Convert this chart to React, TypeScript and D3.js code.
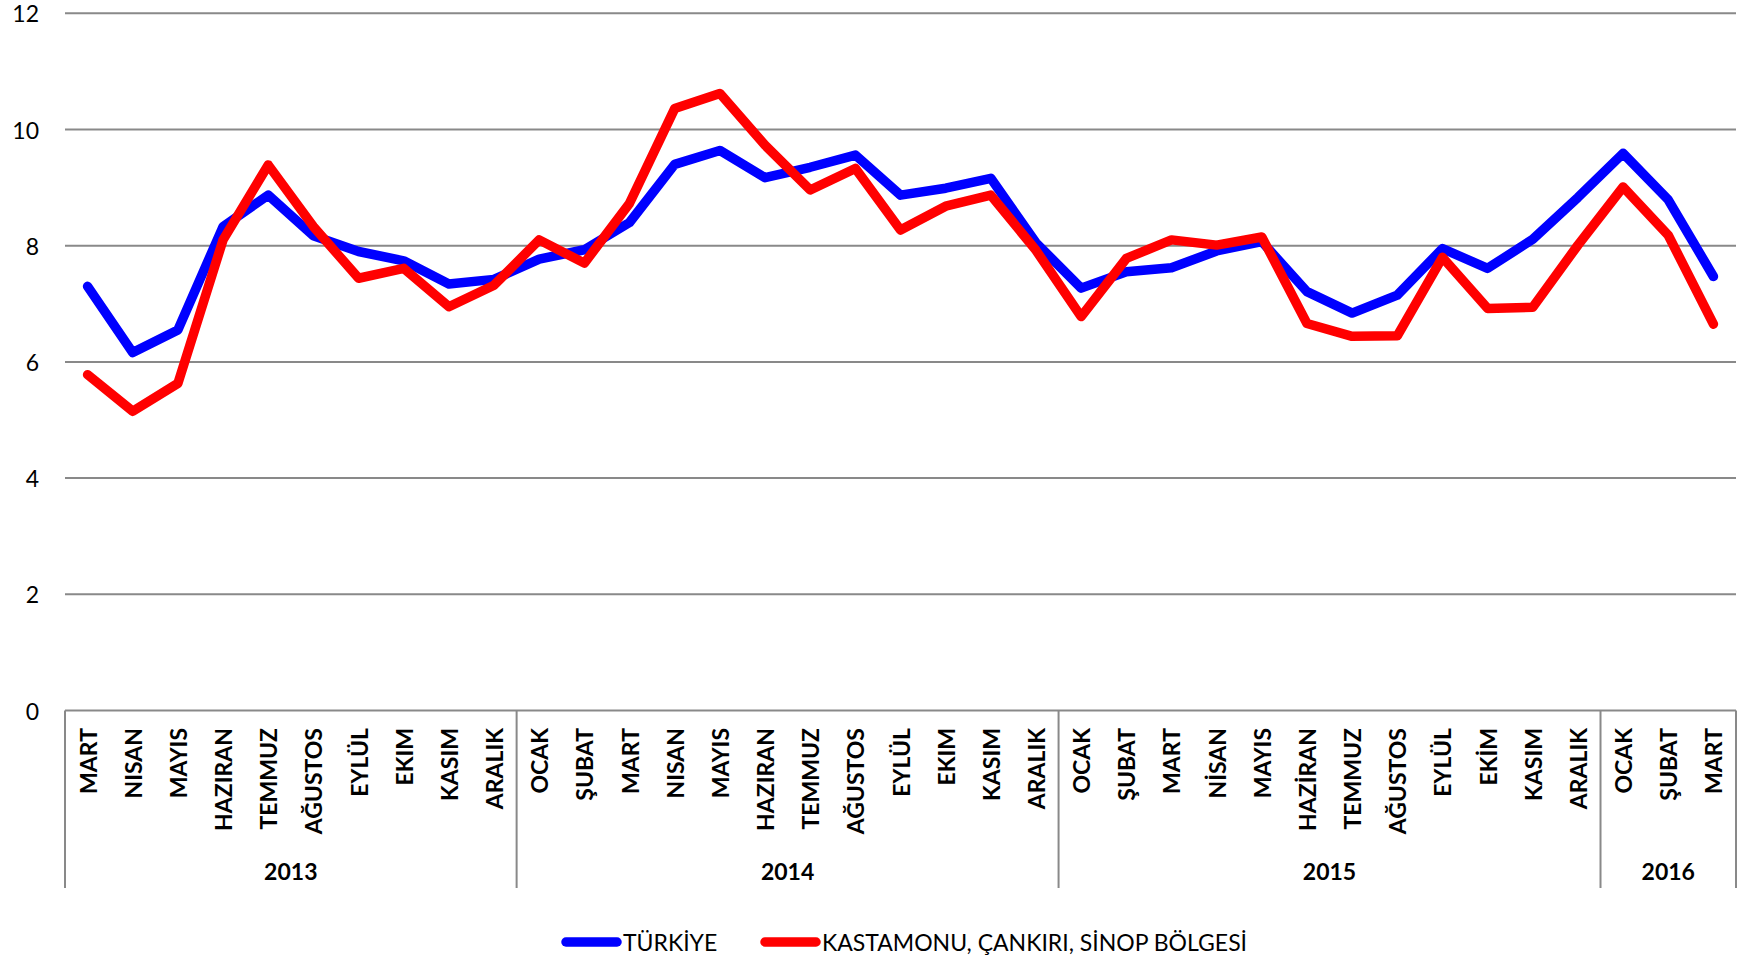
import React from "react";
import * as d3 from "d3";

const months2013 = ["MART", "NISAN", "MAYIS", "HAZIRAN", "TEMMUZ", "AĞUSTOS", "EYLÜL", "EKIM", "KASIM", "ARALIK"];
const months2014 = ["OCAK", "ŞUBAT", "MART", "NISAN", "MAYIS", "HAZIRAN", "TEMMUZ", "AĞUSTOS", "EYLÜL", "EKIM", "KASIM", "ARALIK"];
const months2015 = ["OCAK", "ŞUBAT", "MART", "NİSAN", "MAYIS", "HAZİRAN", "TEMMUZ", "AĞUSTOS", "EYLÜL", "EKİM", "KASIM", "ARALIK"];
const months2016 = ["OCAK", "ŞUBAT", "MART"];
const years = ["2013", "2014", "2015", "2016"];
const yearMonths = [months2013, months2014, months2015, months2016];

const turkiye = [
  7.30, 6.16, 6.55, 8.33, 8.87, 8.17, 7.90, 7.74, 7.34, 7.42,
  7.77, 7.93, 8.40, 9.40, 9.64, 9.17, 9.35, 9.56, 8.87, 8.99, 9.16, 8.05,
  7.27, 7.55, 7.62, 7.91, 8.07, 7.21, 6.84, 7.15, 7.95, 7.61, 8.11, 8.83,
  9.59, 8.79, 7.47,
];
const bolge = [
  5.78, 5.15, 5.63, 8.10, 9.39, 8.33, 7.44, 7.61, 6.95, 7.32,
  8.10, 7.70, 8.73, 10.36, 10.62, 9.73, 8.96, 9.33, 8.27, 8.68, 8.87, 7.92,
  6.78, 7.78, 8.10, 8.01, 8.15, 6.66, 6.44, 6.45, 7.80, 6.92, 6.94, 8.01,
  9.01, 8.18, 6.65,
];
const yTicks = [0, 2, 4, 6, 8, 10, 12];
const seriesNames = ["TÜRKİYE", "KASTAMONU, ÇANKIRI, SİNOP BÖLGESİ"];
const seriesColors = ["#0000FF", "#FF0000"];

const W = 1738;
const H = 958;
const left = 65;
const right = 1736;
const top = 13.3;
const bottom = 710.5;
const FONT = "Lato, 'Open Sans', sans-serif";

export default function App() {
  const cats: { key: string; label: string; year: number }[] = [];
  yearMonths.forEach((ms, yi) => ms.forEach((m, mi) => cats.push({ key: `${years[yi]}-${mi}`, label: m, year: yi })));

  const x = d3.scaleBand<string>().domain(cats.map((c) => c.key)).range([left, right]).padding(0);
  const y = d3.scaleLinear().domain([0, 12]).range([bottom, top]);
  const cx = (i: number) => (x(cats[i].key) as number) + x.bandwidth() / 2;

  const line = d3
    .line<number>()
    .x((_, i) => cx(i))
    .y((d) => y(d));

  const bounds: number[] = [left];
  let acc = 0;
  yearMonths.forEach((ms) => {
    acc += ms.length;
    const k = cats[acc - 1].key;
    bounds.push((x(k) as number) + x.bandwidth());
  });

  const gridColor = "#898989";

  return (
    <div style={{ position: "absolute", left: 0, top: 0 }}>
      <svg width={W} height={H} style={{ display: "block", background: "#fff" }}>
        {yTicks.map((t) => (
          <g key={t}>
            <line x1={left} x2={right} y1={y(t)} y2={y(t)} stroke={gridColor} strokeWidth={2} />
            <text
              x={39}
              y={y(t)}
              textAnchor="end"
              dominantBaseline="central"
              fontFamily={FONT}
              fontSize={23}
              fill="#000"
            >
              {t}
            </text>
          </g>
        ))}
        {bounds.map((b, i) => (
          <line key={i} x1={b} x2={b} y1={bottom} y2={888} stroke={gridColor} strokeWidth={2} />
        ))}
        {cats.map((c, i) => (
          <text
            key={c.key}
            transform={`translate(${cx(i)},728) rotate(-90)`}
            textAnchor="end"
            dominantBaseline="central"
            fontFamily={FONT}
            fontWeight="bold"
            fontSize={23}
            fill="#000"
          >
            {c.label}
          </text>
        ))}
        {years.map((yr, i) => (
          <text
            key={yr}
            x={(bounds[i] + bounds[i + 1]) / 2}
            y={871}
            textAnchor="middle"
            dominantBaseline="central"
            fontFamily={FONT}
            fontWeight="bold"
            fontSize={23}
            fill="#000"
          >
            {yr}
          </text>
        ))}
        {[turkiye, bolge].map((s, si) => (
          <path
            key={si}
            d={line(s) as string}
            fill="none"
            stroke={seriesColors[si]}
            strokeWidth={9.5}
            strokeLinejoin="round"
            strokeLinecap="round"
          />
        ))}
        {seriesNames.map((n, i) => {
          const lx = [562, 761][i];
          return (
            <g key={n}>
              <line x1={lx + 4} x2={lx + 55} y1={942} y2={942} stroke={seriesColors[i]} strokeWidth={9.5} strokeLinecap="round" />
              <text x={lx + 61} y={942} dominantBaseline="central" fontFamily={FONT} fontSize={23} fill="#000">
                {n}
              </text>
            </g>
          );
        })}
      </svg>
    </div>
  );
}
